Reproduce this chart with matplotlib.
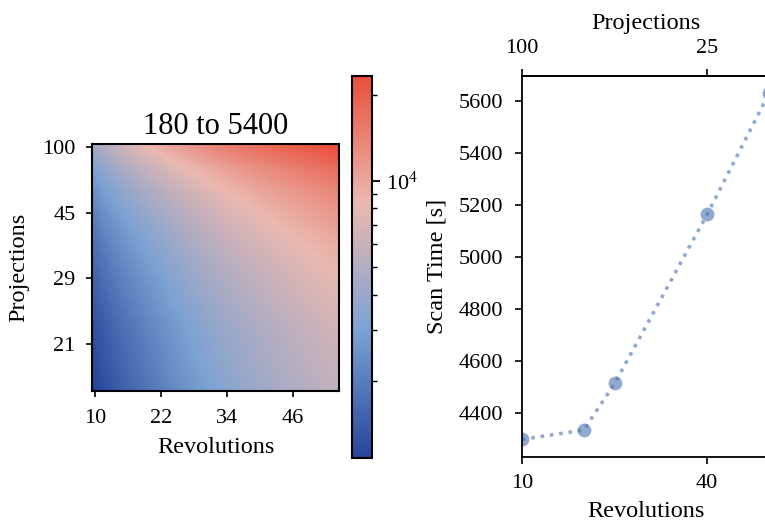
import matplotlib
matplotlib.use("Agg")
import matplotlib.pyplot as plt
import numpy as np
from matplotlib.colors import LogNorm, LinearSegmentedColormap

# ---------------- data ----------------
revolutions = list(range(10, 55))
projections = [100, 90, 83, 76, 71, 66, 62, 58, 55, 52, 50, 47, 45, 43, 41,
               40, 38, 37, 35, 34, 33, 32, 31, 30, 29, 28, 27, 27, 26, 25,
               25, 24, 23, 23, 22, 22, 21, 21, 20, 20, 20, 19, 19, 18, 18]
sample_step = 4  # heatmap values read every 4th row / column

# scan time [s] read from the heatmap colours (rows: projections 100 -> 18,
# columns: revolutions 10 -> 54, every 4th cell)
scan_time_grid = [
    [4300, 5890, 7480, 9140, 10860, 12610, 14360, 16110, 17870, 19630, 21450, 23300],
    [3160, 4290, 5430, 6620, 7890, 9190, 10480, 11770, 13070, 14370, 15680, 16980],
    [2530, 3410, 4290, 5240, 6250, 7290, 8330, 9380, 10420, 11470, 12530, 13580],
    [2130, 2860, 3580, 4370, 5230, 6110, 6990, 7880, 8770, 9660, 10560, 11450],
    [1860, 2470, 3090, 3760, 4510, 5290, 6060, 6830, 7610, 8390, 9180, 9960],
    [1660, 2200, 2730, 3330, 4000, 4690, 5390, 6080, 6780, 7490, 8190, 8900],
    [1500, 1980, 2450, 2980, 3590, 4220, 4850, 5480, 6120, 6760, 7410, 8050],
    [1390, 1810, 2230, 2720, 3280, 3870, 4450, 5030, 5620, 6220, 6810, 7410],
    [1270, 1640, 2020, 2460, 2980, 3510, 4050, 4580, 5130, 5680, 6220, 6770],
    [1190, 1530, 1880, 2290, 2770, 3280, 3780, 4280, 4800, 5310, 5830, 6350],
    [1150, 1480, 1810, 2200, 2670, 3160, 3650, 4130, 4630, 5130, 5630, 6130],
    [1070, 1370, 1670, 2030, 2460, 2920, 3380, 3840, 4300, 4770, 5240, 5710],
]
heat_tick_index = [0, 12, 24, 36]
title_text = "180 to 5400"

line_revolutions = [10, 20, 25, 40, 50]
line_scan_time = [4300, 4336, 4515, 5166, 5631]
line_rev_ticks = [10, 40]
line_proj_labels = [100, 25]

cmap_colors = ["#26449a", "#7ba2d3", "#eab9b0", "#e94f3b"]

# ---------------- style ----------------
plt.rcParams["font.family"] = ["Liberation Serif", "DejaVu Serif"]
plt.rcParams["font.size"] = 16
plt.rcParams["axes.linewidth"] = 1.3
LABEL_FS = 17.5

W, H = 765, 526
fig = plt.figure(figsize=(W / 100, H / 100), dpi=100)

def box(x0, y0, x1, y1):
    return [x0 / W, 1 - y1 / H, (x1 - x0) / W, (y1 - y0) / H]

ax_h = fig.add_axes(box(92.3, 144.0, 339.3, 390.7))
cax = fig.add_axes(box(351.7, 75.7, 371.7, 458.3))
ax_l = fig.add_axes(box(522.0, 76.0, 769.0, 456.7))

cmap = LinearSegmentedColormap.from_list("scan", cmap_colors)
Z = np.array(scan_time_grid, dtype=float)
norm = LogNorm(vmin=Z.min(), vmax=Z.max())

n = len(revolutions)
half = sample_step / 2
im = ax_h.imshow(Z, cmap=cmap, norm=norm, interpolation="bilinear",
                 extent=(-half, (len(Z[0]) - 1) * sample_step + half,
                         (len(Z) - 1) * sample_step + half, -half),
                 aspect="auto")
ax_h.set_xlim(-0.5, n - 0.5)
ax_h.set_ylim(n - 0.5, -0.5)
ax_h.set_xticks(heat_tick_index)
ax_h.set_xticklabels([str(revolutions[i]) for i in heat_tick_index])
ax_h.set_yticks(heat_tick_index)
ax_h.set_yticklabels([str(projections[i]) for i in heat_tick_index])
ax_h.tick_params(axis="x", length=4.5, width=1.2, pad=8.8)
ax_h.tick_params(axis="y", length=4.5, width=1.2, pad=7.5)
ax_h.set_xlabel("Revolutions", fontsize=LABEL_FS, labelpad=6)
ax_h.set_ylabel("Projections", fontsize=LABEL_FS, labelpad=9)
ax_h.set_title(title_text, fontsize=22, pad=7.5)
for s in ax_h.spines.values():
    s.set_linewidth(1.5)

cbar = fig.colorbar(im, cax=cax)
cbar.outline.set_linewidth(1.5)
cax.tick_params(which="major", length=6, width=1.3, pad=4)
cax.tick_params(which="minor", length=3.5, width=1.0)

col = "#4c72b0"
ax_l.plot(line_revolutions, line_scan_time, linestyle=(0, (1, 1.6)),
          linewidth=2.6, color=col, alpha=0.6, marker="o", markersize=10,
          markeredgewidth=0)
ax_l.set_xlim(line_revolutions[0], line_revolutions[-1])
ax_l.set_xticks(line_rev_ticks)
ax_l.set_xlabel("Revolutions", fontsize=LABEL_FS, labelpad=6)
ax_l.set_ylabel("Scan Time [s]", fontsize=LABEL_FS, labelpad=8)
ax_l.tick_params(axis="x", length=5, width=1.2, pad=7.5)
ax_l.tick_params(axis="y", length=5, width=1.2, pad=8.5)
top = ax_l.secondary_xaxis("top")
top.set_xticks(line_rev_ticks)
top.set_xticklabels([str(v) for v in line_proj_labels])
top.set_xlabel("Projections", fontsize=LABEL_FS, labelpad=7.5)
top.tick_params(length=5, width=1.2, pad=8)

fig.savefig("out.png", dpi=100)
